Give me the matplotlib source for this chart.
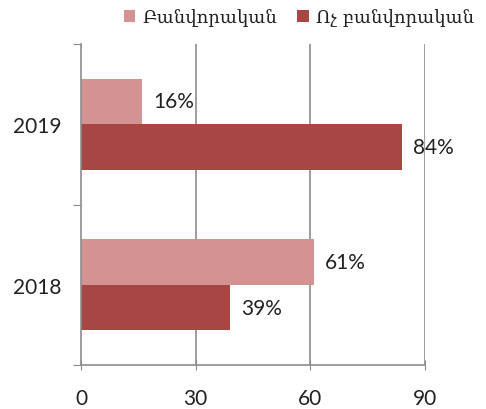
import matplotlib
matplotlib.use('Agg')
import matplotlib.pyplot as plt
import numpy as np

years = ['2018', '2019']
worker = [61, 16]
non_worker = [39, 84]
series_names = ['Բանվորական', 'Ոչ բանվորական']

light = '#d39393'
dark = '#a84644'
grey = '#8c8c8c'

fig = plt.figure(figsize=(4.86, 4.10), dpi=100)
ax = fig.add_axes([81 / 486, 1 - 366 / 410, 344 / 486, 321 / 410])

y = np.arange(len(years)) + 0.5
h = 0.285
b1 = ax.barh(y + h / 2, worker, height=h, color=light, label=series_names[0])
b2 = ax.barh(y - h / 2, non_worker, height=h, color=dark, label=series_names[1])

num_font = ['Lato', 'DejaVu Sans']
for bars, vals in ((b1, worker), (b2, non_worker)):
    for bar, v in zip(bars, vals):
        ax.annotate(f'{v}%', (bar.get_width(), bar.get_y() + bar.get_height() / 2),
                    xytext=(11, 0), textcoords='offset pixels', va='center', ha='left',
                    fontsize=15, family=num_font, color='#222222')

ax.set_xlim(0, 90)
ax.set_ylim(0, 2)
ax.set_xticks([0, 30, 60, 90])
ax.set_yticks([0, 1, 2])
ax.set_yticklabels([])
ax.set_yticks(y, minor=True)
ax.set_yticklabels(years, minor=True)
ax.tick_params(axis='y', which='minor', length=0, pad=14, labelsize=15)
ax.tick_params(axis='y', which='major', length=6, color=grey, direction='out')
ax.tick_params(axis='x', length=7, color=grey, direction='inout', pad=13, labelsize=15)
for lab in ax.get_xticklabels() + ax.get_yticklabels(minor=True):
    lab.set_family(num_font)
    lab.set_color('#222222')

for x in (30, 60, 90):
    ax.axvline(x, color=grey, lw=1.2, zorder=0)
for s in ('top', 'right'):
    ax.spines[s].set_visible(False)
for s in ('left', 'bottom'):
    ax.spines[s].set_color(grey)
    ax.spines[s].set_linewidth(1.2)

leg = fig.legend(loc='center', bbox_to_anchor=(0.615, 0.955), ncol=2, frameon=False,
                 prop={'family': ['DejaVu Serif', 'DejaVu Sans'], 'size': 13}, handlelength=0.65,
                 handleheight=0.65, handletextpad=0.4, columnspacing=1.1)
for t in leg.get_texts():
    t.set_color('#222222')

fig.savefig('out.png', dpi=100)
